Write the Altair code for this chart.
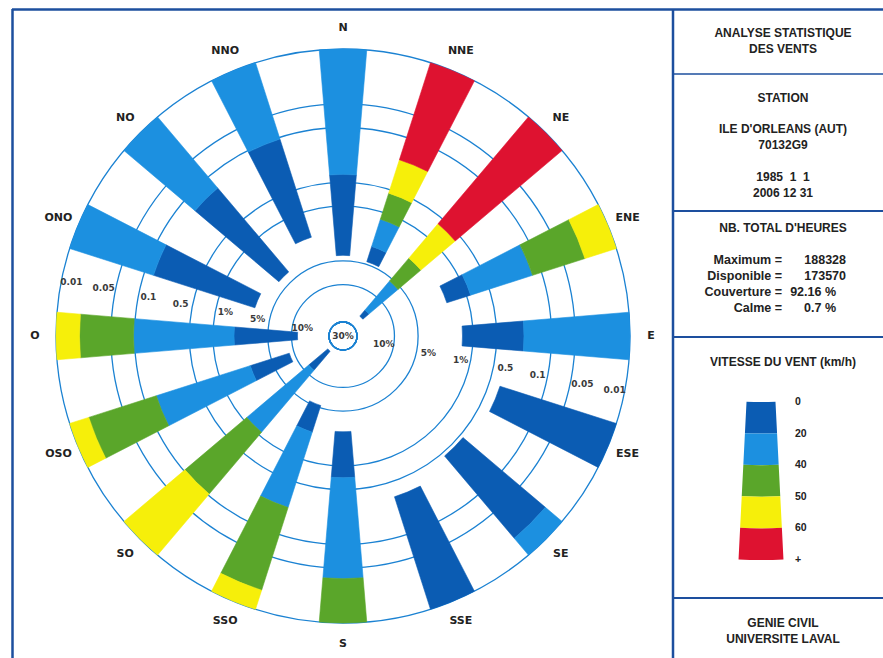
import math
import altair as alt
import pandas as pd

# ---------------- data ----------------
directions = ["N", "NNE", "NE", "ENE", "E", "ESE", "SE", "SSE",
              "S", "SSO", "SO", "OSO", "O", "ONO", "NO", "NNO"]
direction_deg = [0, 22.5, 45, 67.5, 90, 112.5, 135, 157.5,
                 180, 202.5, 225, 247.5, 270, 292.5, 315, 337.5]

# % of hours with wind from the direction and speed above each class limit (km/h)
pct_over_0 = [4.25, 4.59, 21.1, 1.85, 1.36, 0.36, 0.45, 0.32,
              2.73, 5.32, 25.2, 8.65, 11.9, 3.0, 3.85, 2.16]
pct_over_20 = [0.395, 2.87, 16.7, 0.888, 0.224, 0.01, 0.019, 0.01,
               0.706, 2.34, 12.1, 2.60, 1.85, 0.132, 0.153, 0.105]
pct_over_40 = [0.01, 1.24, 5.47, 0.132, 0.01, 0.01, 0.01, 0.01,
               0.0367, 0.230, 1.12, 0.144, 0.097, 0.01, 0.01, 0.01]
pct_over_50 = [0.01, 0.556, 2.27, 0.0263, 0.01, 0.01, 0.01, 0.01,
               0.01, 0.018, 0.104, 0.018, 0.0199, 0.01, 0.01, 0.01]
pct_over_60 = [0.01, 0.199, 0.606, 0.01, 0.01, 0.01, 0.01, 0.01,
               0.01, 0.01, 0.01, 0.01, 0.01, 0.01, 0.01, 0.01]
chart_floor = 0.01

speed_classes = ["0-20", "20-40", "40-50", "50-60", "60+"]
class_colors = ["#0b5cb3", "#1c90e0", "#5aa62a", "#f6ef0a", "#de1230"]
legend_ticks = ["0", "20", "40", "50", "60", "+"]

ring_values = [30, 10, 5, 1, 0.5, 0.1, 0.05, 0.01]
ring_inner_labels = ["10%", "1%", "0.1", "0.01"]
ring_inner_values = [10, 1, 0.1, 0.01]
ring_outer_labels = ["5%", "0.5", "0.05"]
ring_outer_values = [5, 0.5, 0.05]
label_axis_deg = [101.3, 281.3]

stat_names = ["Maximum =", "Disponible =", "Couverture =", "Calme ="]
stat_values = ["188328", "173570", "92.16 %", "0.7 %"]

# ---------------- tables ----------------
HALF = 4.75
wedge_rows = []
for i, d in enumerate(directions):
    bounds = [pct_over_0[i], pct_over_20[i], pct_over_40[i],
              pct_over_50[i], pct_over_60[i], chart_floor]
    for k in range(5):
        hi = bounds[k]
        lo = max(bounds[k + 1], chart_floor)
        if hi > lo:
            wedge_rows.append(dict(direction=d, cls=speed_classes[k],
                                   a0=direction_deg[i] - HALF, a1=direction_deg[i] + HALF,
                                   p_hi=hi, p_lo=lo))
wedge_df = pd.DataFrame(wedge_rows)

ring_df = pd.DataFrame({"p": ring_values, "t0": [0] * len(ring_values),
                        "t1": [360] * len(ring_values)})
lab_in = pd.DataFrame([dict(lab=l, p=v, ang=a) for a in label_axis_deg
                       for l, v in zip(ring_inner_labels, ring_inner_values)])
lab_out = pd.DataFrame([dict(lab=l, p=v, ang=a) for a in label_axis_deg
                        for l, v in zip(ring_outer_labels, ring_outer_values)])
dir_df = pd.DataFrame(dict(lab=directions, ang=direction_deg, p=[chart_floor] * 16))
legend_df = pd.DataFrame(dict(cls=speed_classes, k0=list(range(5)), k1=list(range(1, 6))))
legend_lab_df = pd.DataFrame(dict(lab=legend_ticks, k=list(range(6))))

# ---------------- scales ----------------
CX, CY = 343, 336
rscale = alt.Scale(type="log", domain=[30, 0.01], range=[14, 287], nice=False)
tscale = alt.Scale(domain=[0, 360], range=[0, 2 * math.pi])
cscale = alt.Scale(domain=speed_classes, range=class_colors)

RING = "#1b82d2"
FRAME = "#1d4f9e"
TXT = "#222222"
SANS = "Liberation Sans"
DV = "DejaVu Sans"

rings = alt.Chart(ring_df).mark_arc(
    fillOpacity=0, stroke=RING, strokeWidth=1.3
).encode(
    x=alt.value(CX), y=alt.value(CY),
    theta=alt.Theta("t0:Q", scale=tscale, stack=None), theta2="t1:Q",
    radius=alt.Radius("p:Q", scale=rscale),
)

wedges = alt.Chart(wedge_df).mark_arc(strokeWidth=0.6).encode(
    x=alt.value(CX), y=alt.value(CY),
    theta=alt.Theta("a0:Q", scale=tscale, stack=None), theta2="a1:Q",
    radius=alt.Radius("p_lo:Q", scale=rscale), radius2="p_hi:Q",
    color=alt.Color("cls:N", scale=cscale, legend=None),
    stroke=alt.Stroke("cls:N", scale=cscale, legend=None),
)


def polar_text(df, offset, size, weight, color):
    return alt.Chart(df).mark_text(
        radiusOffset=offset, font=DV, fontSize=size, fontWeight=weight,
        color=color, align="center", baseline="middle"
    ).encode(
        x=alt.value(CX), y=alt.value(CY),
        theta=alt.Theta("ang:Q", scale=tscale, stack=None),
        radius=alt.Radius("p:Q", scale=rscale),
        text="lab:N",
    )


ring_lab_in = polar_text(lab_in, -10, 9, "bold", "#3a3a3a")
ring_lab_out = polar_text(lab_out, 12, 9, "bold", "#3a3a3a")
dir_labels = polar_text(dir_df, 21, 11, "bold", TXT)

one = alt.Data(values=[{"a": 1}])


def label(txt, x, y, size=12, weight="bold", align="center", font=SANS):
    return alt.Chart(one).mark_text(
        text=txt, font=font, fontSize=size, fontWeight=weight, color=TXT,
        align=align, baseline="middle"
    ).encode(x=alt.value(x), y=alt.value(y))


center_lab = alt.Chart(one).mark_text(
    text="30%", font=DV, fontSize=9, fontWeight="bold", color="#3a3a3a",
    align="center", baseline="middle"
).encode(x=alt.value(CX), y=alt.value(CY))


def hline(x1, x2, y, w=2.5):
    return alt.Chart(one).mark_rule(color=FRAME, strokeWidth=w).encode(
        x=alt.value(x1), x2=alt.value(x2), y=alt.value(y), y2=alt.value(y))


def vline(x, y1, y2, w=2.5):
    return alt.Chart(one).mark_rule(color=FRAME, strokeWidth=w).encode(
        x=alt.value(x), x2=alt.value(x), y=alt.value(y1), y2=alt.value(y2))


frame = [
    hline(12, 883, 9.5),
    vline(12.5, 9, 658),
    vline(673, 9, 658),
    hline(673, 883, 74, 1.5),
    hline(673, 883, 211, 2.2),
    hline(673, 883, 337, 2.2),
    hline(673, 883, 598, 2.2),
]

NB = "\u00a0"
PX = 783
SS = 12.5
panel = [
    label("ANALYSE STATISTIQUE", PX, 33),
    label("DES VENTS", PX, 49),
    label("STATION", PX, 98),
    label("ILE D'ORLEANS (AUT)", PX, 129),
    label("70132G9", PX, 145),
    label("1985" + NB * 2 + "1" + NB * 2 + "1", PX, 177),
    label("2006 12 31", PX, 193),
    label("NB. TOTAL D'HEURES", PX, 228),
    label(stat_names[0], 782, 260, size=SS, align="right"),
    label(stat_names[1], 782, 276, size=SS, align="right"),
    label(stat_names[2], 782, 292, size=SS, align="right"),
    label(stat_names[3], 782, 308, size=SS, align="right"),
    label(stat_values[0], 846, 260, size=SS, align="right"),
    label(stat_values[1], 846, 276, size=SS, align="right"),
    label(stat_values[2], 836, 292, size=SS, align="right"),
    label(stat_values[3], 836, 308, size=SS, align="right"),
    label("VITESSE DU VENT (km/h)", PX, 362),
    label("GENIE CIVIL", PX, 623),
    label("UNIVERSITE LAVAL", PX, 639),
]

legend_bar = alt.Chart(legend_df).mark_arc(
    theta=math.radians(177.1), theta2=math.radians(182.9)
).encode(
    x=alt.value(761), y=alt.value(116),
    radius=alt.Radius("k1:Q", scale=alt.Scale(type="linear", zero=False, domain=[0, 5], range=[286, 444])),
    radius2="k0:Q",
    color=alt.Color("cls:N", scale=cscale, legend=None),
)

legend_labels = alt.Chart(legend_lab_df).mark_text(
    font=SANS, fontSize=10.5, fontWeight="bold", color=TXT, align="left", baseline="middle"
).encode(
    x=alt.value(795),
    y=alt.Y("k:Q", scale=alt.Scale(domain=[0, 5], range=[402, 560]), axis=None),
    text="lab:N",
)

chart = alt.layer(
    *frame, rings, wedges, ring_lab_in, ring_lab_out, center_lab, dir_labels,
    *panel, legend_bar, legend_labels,
).resolve_scale(radius="independent").properties(
    width=883, height=658, padding=0, autosize=alt.AutoSizeParams(type="none"),
    background="white",
).configure_view(stroke=None)

chart.save("out.html", embed_options={"renderer": "svg", "actions": False})
